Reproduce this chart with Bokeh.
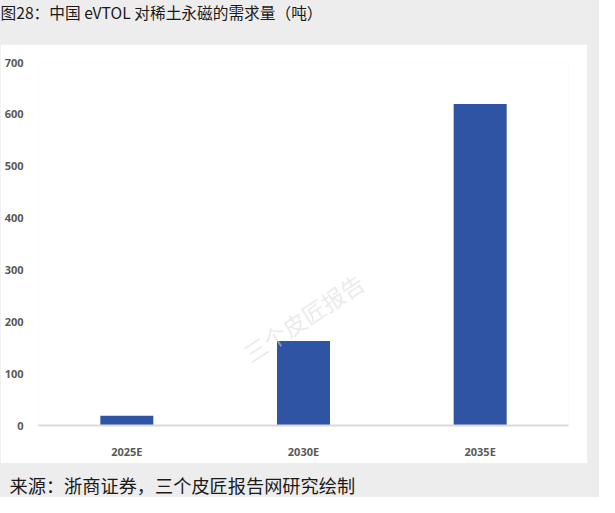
from bokeh.plotting import figure
from bokeh.models import FactorRange, Range1d, FixedTicker, Label, Spacer
from bokeh.layouts import column, row
from bokeh.embed import file_html
from bokeh.resources import INLINE

# ---- data ----
categories = ["2025E", "2030E", "2035E"]
demand_tons = [19, 163, 620]
y_ticks = [0, 100, 200, 300, 400, 500, 600, 700]
title_text = "图28：中国 eVTOL 对稀土永磁的需求量（吨）"
source_text = "来源：浙商证券，三个皮匠报告网研究绘制"
watermark_text = "三个皮匠报告"

GRAY = "#EDEDED"
BAR = "#2F54A3"
CJK = "Noto Sans CJK SC"


def band(height, text, x, y, size):
    f = figure(width=599, height=height, x_axis_type=None, y_axis_type=None,
               output_backend="svg", toolbar_location=None,
               min_border=0, min_border_left=0, min_border_right=0,
               min_border_top=0, min_border_bottom=0)
    f.x_range = Range1d(0, 599)
    f.y_range = Range1d(0, height)
    f.grid.visible = False
    f.border_fill_color = GRAY
    f.background_fill_color = GRAY
    f.outline_line_color = None
    f.add_layout(Label(x=x, y=y, x_units="screen", y_units="screen",
                       text=text, text_align="left", text_baseline="middle",
                       text_font=CJK, text_font_size=size, text_color="#1A1A1A"))
    return f


top = band(44, title_text, 0, 32, "15.7px")
bottom = band(34, source_text, 9, 13, "18.2px")

p = figure(
    x_range=FactorRange(*categories, range_padding=0.0),
    y_range=Range1d(0, 700),
    width=587, height=419,
    output_backend="svg", toolbar_location=None,
    min_border_left=38, min_border_right=19,
    min_border_top=18, min_border_bottom=38,
)
p.border_fill_color = "white"
p.background_fill_color = "white"
p.outline_line_color = None

p.vbar(x=categories, top=demand_tons, width=0.3, color=BAR, line_color=None)

p.xgrid.grid_line_color = None
p.ygrid.grid_line_color = None

p.yaxis.ticker = FixedTicker(ticks=y_ticks)
p.yaxis.axis_line_color = None
p.yaxis.major_tick_line_color = None
p.yaxis.minor_tick_line_color = None
p.yaxis.major_label_standoff = 9
p.yaxis.major_label_text_font = "Open Sans"
p.yaxis.major_label_text_font_style = "bold"
p.yaxis.major_label_text_font_size = "11px"
p.yaxis.major_label_text_color = "#595959"

p.xaxis.axis_line_color = "#D9D9D9"
p.xaxis.axis_line_width = 2
p.xaxis.major_tick_line_color = None
p.xaxis.minor_tick_line_color = None
p.xaxis.major_label_standoff = 12
p.xaxis.major_label_text_font = "Open Sans"
p.xaxis.major_label_text_font_style = "bold"
p.xaxis.major_label_text_font_size = "11px"
p.xaxis.major_label_text_color = "#595959"

# watermark
p.add_layout(Label(x=265, y=108, x_units="screen", y_units="screen",
                   text=watermark_text, angle=0.58,
                   text_align="center", text_baseline="middle",
                   text_font=CJK, text_font_size="23px",
                   text_color="#DADADA", text_alpha=0.55))

side = Spacer(width=12, height=419, styles={"background-color": GRAY})
layout = column(top, row(p, side, spacing=0), bottom, spacing=0,
                styles={"background-color": GRAY})

open("out.html", "w").write(file_html(layout, INLINE))
